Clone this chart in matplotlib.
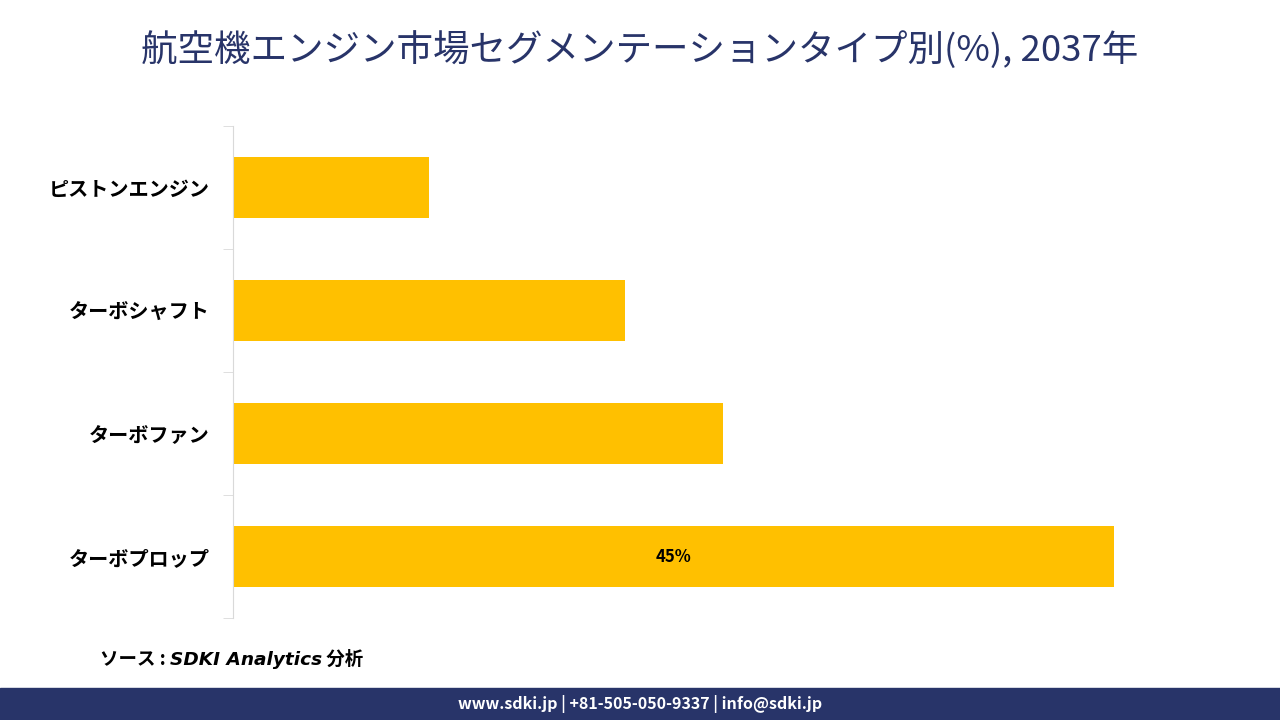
import matplotlib
matplotlib.use('Agg')
import matplotlib.pyplot as plt
import numpy as np

CJK = ['Noto Sans CJK JP', 'DejaVu Sans']
plt.rcParams['font.family'] = CJK

# data
categories = ['ピストンエンジン', 'ターボシャフト', 'ターボファン', 'ターボプロップ']
shares = [10, 20, 25, 45]
bar_labels = ['', '', '', '45%']

title = '航空機エンジン市場セグメンテーションタイプ別(%), 2037年'
source_parts = ['ソース : ', 'SDKI Analytics', ' 分析']
footer = 'www.sdki.jp | +81-505-050-9337 | info@sdki.jp'

bar_color = '#FFC000'
navy = '#283469'

fig = plt.figure(figsize=(12.8, 7.2), dpi=100)
ax = fig.add_axes([233/1280, 1 - 618/720, (1212 - 233)/1280, (618 - 126)/720])

y = np.arange(len(categories))
bars = ax.barh(y, shares, height=0.49, color=bar_color)
ax.set_ylim(len(categories) - 0.5, -0.5)
ax.set_xlim(0, 50)

for b, lab in zip(bars, bar_labels):
    if lab:
        ax.text(b.get_width() / 2, b.get_y() + b.get_height() / 2, lab,
                ha='center', va='center', fontsize=12, fontweight='bold', color='black')

# category labels, with separator ticks between categories
ax.set_yticks(y)
ax.set_yticklabels(categories, fontsize=14.5, fontweight='bold')
ax.tick_params(axis='y', which='major', length=0, pad=17)
ax.set_yticks(np.arange(len(categories) + 1) - 0.5, minor=True)
ax.tick_params(axis='y', which='minor', length=7, color='#d9d9d9')
ax.set_xticks([])

for s in ['top', 'right', 'bottom']:
    ax.spines[s].set_visible(False)
ax.spines['left'].set_color('#d9d9d9')

fig.text(0.5, 1 - 50/720, title, ha='center', va='center', fontsize=26.3, color=navy)

# source line: latin part in an italic face, japanese in the CJK font
fig.canvas.draw()
r = fig.canvas.get_renderer()
x = 100 / 1280
base = 1 - 665 / 720
for i, part in enumerate(source_parts):
    kw = dict(family='DejaVu Sans', style='italic') if i == 1 else {}
    t = fig.text(x, base, part, ha='left', va='baseline', fontsize=13.3,
                 fontweight='bold', color='black', **kw)
    x = fig.transFigure.inverted().transform(t.get_window_extent(r))[1, 0]

# footer band
fig.patches.append(plt.Rectangle((0, 0), 1, 32/720, transform=fig.transFigure,
                                 color=navy, zorder=0))
fig.text(0.5, 16/720, footer, ha='center', va='center', fontsize=11.5,
         fontweight='bold', color='white')

fig.savefig('out.png', dpi=100)
